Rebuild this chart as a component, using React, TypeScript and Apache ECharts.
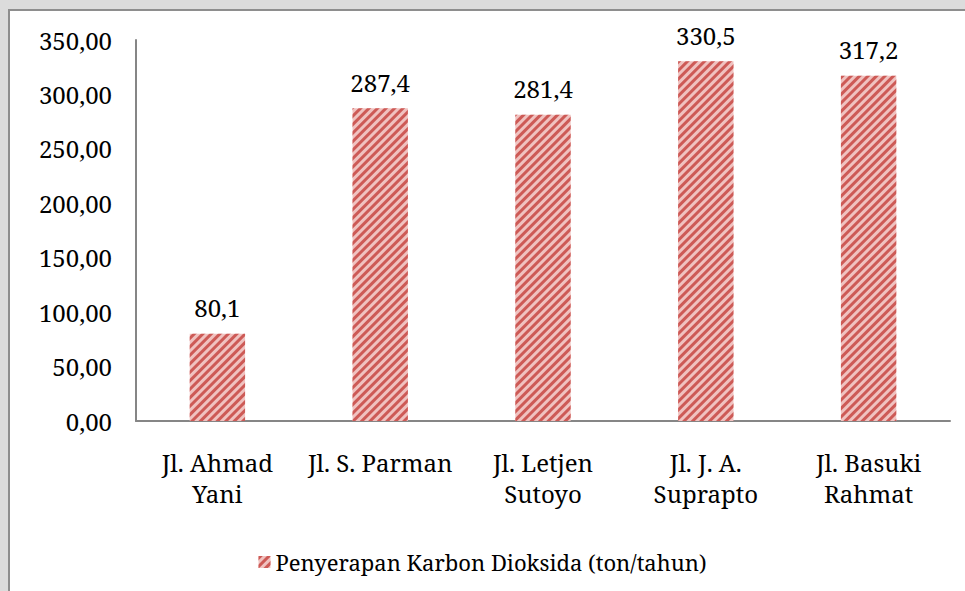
import React, { useEffect, useRef } from "react";
import * as echarts from "echarts";

const categories = ["Jl. Ahmad\nYani", "Jl. S. Parman", "Jl. Letjen\nSutoyo", "Jl. J. A.\nSuprapto", "Jl. Basuki\nRahmat"];
const values = [80.1, 287.4, 281.4, 330.5, 317.2];
const seriesName = "Penyerapan Karbon Dioksida (ton/tahun)";
const yMin = 0;
const yMax = 350;
const yInterval = 50;

const FONT = "Noto Serif";
const FS = 24;

export default function App() {
  const ref = useRef<HTMLDivElement>(null);
  useEffect(() => {
    if (!ref.current) return;
    const chart = echarts.init(ref.current, undefined, { renderer: "svg" });
    chart.setOption({
      animation: false,
      backgroundColor: "transparent",
      textStyle: { fontFamily: FONT },
      grid: { left: 136, right: 15, top: 40, bottom: 170, containLabel: false },
      legend: {
        bottom: 13,
        left: "center",
        itemWidth: 12,
        itemHeight: 12,
        itemGap: 6,
        icon: "rect",
        textStyle: { fontFamily: FONT, fontSize: 22, color: "#000" },
        data: [seriesName],
      },
      xAxis: {
        type: "category",
        data: categories,
        axisLine: { show: true, lineStyle: { color: "#868686", width: 2 } },
        axisTick: { show: false },
        axisLabel: {
          fontFamily: FONT,
          fontSize: FS,
          color: "#000",
          lineHeight: 31,
          margin: 26,
          interval: 0,
        },
      },
      yAxis: {
        type: "value",
        min: yMin,
        max: yMax,
        interval: yInterval,
        axisLine: { show: true, lineStyle: { color: "#868686", width: 2 } },
        axisTick: { show: false },
        splitLine: { show: false },
        axisLabel: {
          fontFamily: FONT,
          fontSize: FS,
          color: "#000",
          margin: 24,
          formatter: (v: number) => v.toFixed(2).replace(".", ","),
        },
      },
      series: [
        {
          type: "bar",
          name: seriesName,
          data: values,
          barWidth: "34%",
          itemStyle: {
            color: "#f0c2c0",
            decal: {
              symbol: "rect",
              symbolSize: 1,
              color: "#cd5a56",
              dashArrayX: [1, 0],
              dashArrayY: [3, 3],
              rotation: -Math.PI / 4,
            },
          },
          label: {
            show: true,
            position: "top",
            distance: 14,
            fontFamily: FONT,
            fontSize: FS,
            color: "#000",
            formatter: (p: any) => String(p.value).replace(".", ","),
          },
        },
      ],
    });
    return () => chart.dispose();
  }, []);

  return (
    <div style={{ position: "fixed", left: 0, top: 0, width: 965, height: 591, background: "#dcdcdc", overflow: "hidden" }}>
      <div
        style={{
          position: "absolute",
          left: 8,
          top: 9,
          width: 957,
          height: 582,
          boxSizing: "border-box",
          borderLeft: "2px solid #8e8e8e",
          borderTop: "2px solid #8e8e8e",
          background: "#fff",
        }}
      />
      <div ref={ref} style={{ position: "absolute", left: 0, top: 0, width: 965, height: 591 }} />
    </div>
  );
}
